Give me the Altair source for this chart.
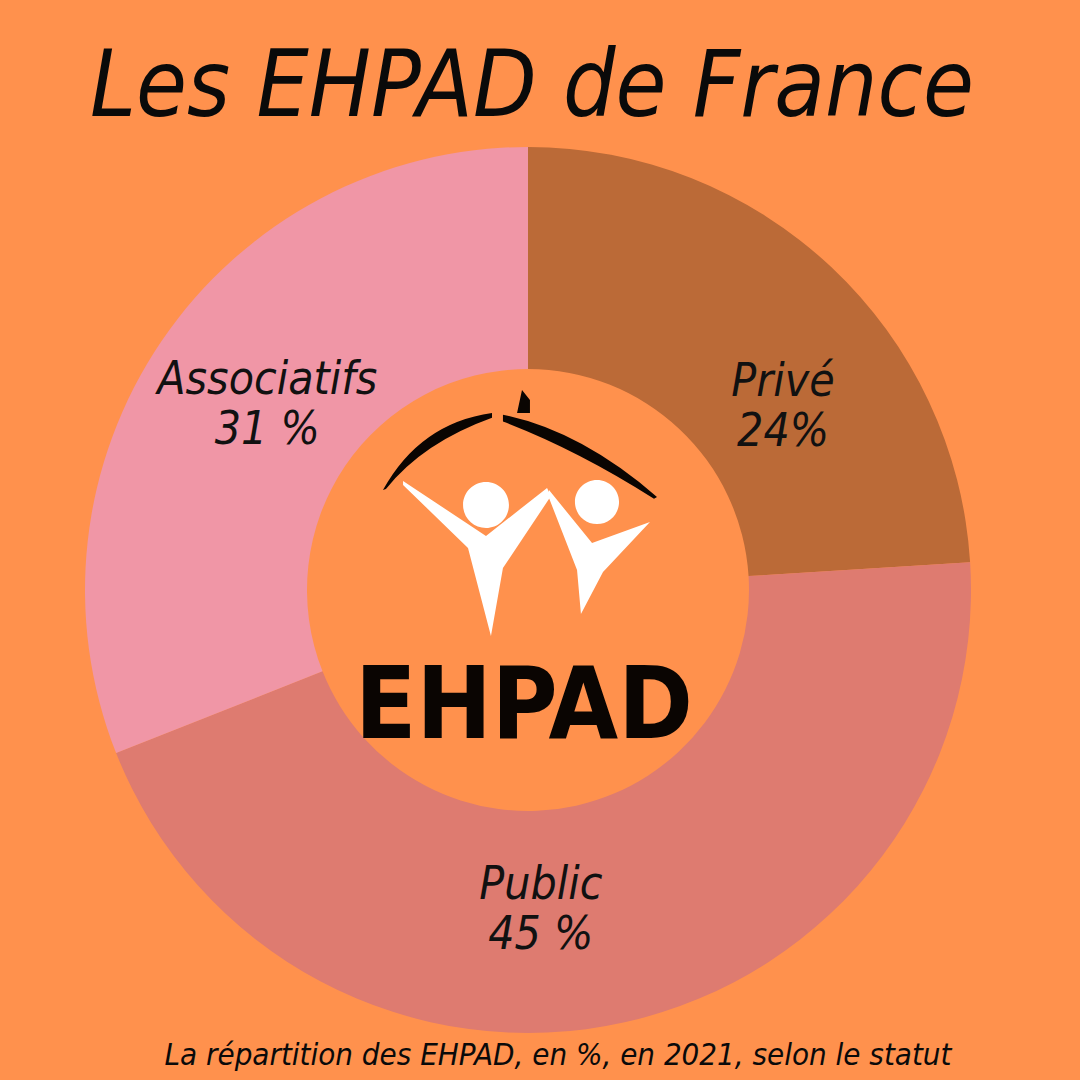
import math
import altair as alt
import pandas as pd

# ---- data ----
categories = ["Privé", "Public", "Associatifs"]
values = [24, 45, 31]
labels = ["Privé\n24%", "Public\n45 %", "Associatifs\n31 %"]
order_idx = [0, 1, 2]
colors = ["#BB6A37", "#DE7B70", "#F096A6"]

title_text = "Les EHPAD de France"
subtitle_text = "La répartition des EHPAD, en %, en 2021, selon le statut"
logo_text = "EHPAD"

BG = "#FF914D"
CX, CY = 528, 590
R_OUT, R_IN = 443, 221
HAND = "Liberation Sans Narrow, DejaVu Sans Condensed, Liberation Sans, sans-serif"

df = pd.DataFrame({"category": categories, "value": values,
                   "label": labels, "idx": order_idx})

theta_scale = alt.Scale(domain=[0, 100], range=[0, 2 * math.pi])

base = alt.Chart(df)

arcs = base.mark_arc(outerRadius=R_OUT, innerRadius=R_IN, x=CX, y=CY,
                     strokeWidth=0).encode(
    theta=alt.Theta("value:Q", stack=True, scale=theta_scale),
    color=alt.Color("category:N", legend=None,
                    scale=alt.Scale(domain=categories, range=colors)),
    order=alt.Order("idx:Q"),
)

lab_base = base.transform_window(
    cum="sum(value)", sort=[alt.SortField("idx")], frame=[None, 0]
).transform_calculate(mid="datum.cum - datum.value / 2")

offsets = {"Privé": (36, 25), "Public": (-57, -17), "Associatifs": (4, -30)}
label_layers = []
for cat in categories:
    dx, dy = offsets[cat]
    label_layers.append(
        lab_base.transform_filter(alt.datum.category == cat).mark_text(
            radius=320, x=CX, y=CY, dx=dx, dy=dy, font=HAND, fontSize=46,
            fontStyle="italic", color="#111111", lineBreak="\n",
            lineHeight=50, align="center", baseline="middle",
        ).encode(
            theta=alt.Theta("mid:Q", stack=None, scale=theta_scale),
            text="label:N",
        )
    )

one = alt.Chart(pd.DataFrame({"t": [title_text], "s": [subtitle_text], "l": [logo_text]}))

title = one.mark_text(font=HAND, fontSize=92, fontStyle="italic", color="#0a0a0a",
                      align="center", baseline="middle").encode(
    x=alt.value(532), y=alt.value(88), text="t:N")
subtitle = one.mark_text(font=HAND, fontSize=31, fontStyle="italic", color="#0a0a0a",
                         align="center", baseline="middle").encode(
    x=alt.value(558), y=alt.value(1056), text="s:N")
logo_word = one.mark_text(font=HAND, fontSize=100, fontWeight="bold", color="#0a0502",
                          align="center", baseline="middle").encode(
    x=alt.value(524), y=alt.value(708), text="l:N")

def circ(x, y, r):
    return (f"M{x - r} {y} A{r} {r} 0 1 0 {x + r} {y} "
            f"A{r} {r} 0 1 0 {x - r} {y} Z ")

roof_path = (
    "M-0.967 -0.133 Q-0.72 -0.58 -0.24 -0.647 L-0.24 -0.615 Q-0.70 -0.45 -0.947 -0.140 Z "
    "M-0.167 -0.635 Q0.35 -0.53 0.86 -0.087 L0.84 -0.075 Q0.33 -0.40 -0.167 -0.59 Z "
    "M-0.04 -0.80 L0.013 -0.733 L0.013 -0.647 L-0.073 -0.647 Z"
)
people_path = (
    "M-0.833 -0.193 L-0.28 0.173 L0.127 -0.147 L0.153 -0.093 L-0.167 0.387 "
    "L-0.247 0.84 L-0.40 0.253 L-0.833 -0.167 Z "
    "M0.14 -0.133 L0.427 0.22 L0.813 0.08 L0.50 0.413 L0.353 0.693 "
    "L0.327 0.40 L0.14 -0.08 Z "
    + circ(-0.28, -0.033, 0.153) + circ(0.46, -0.053, 0.147)
)

roof = one.mark_point(shape=roof_path, size=90000, filled=True, fill="#0a0502",
                      opacity=1, strokeWidth=0).encode(
    x=alt.value(528), y=alt.value(510))
people = one.mark_point(shape=people_path, size=90000, filled=True, fill="#FFFFFF",
                        opacity=1, strokeWidth=0).encode(
    x=alt.value(528), y=alt.value(510))

chart = alt.layer(arcs, *label_layers, roof, people, logo_word, title, subtitle).properties(
    width=1080, height=1080, padding=0,
    autosize=alt.AutoSizeParams(type="none"),
    background=BG,
).configure_view(strokeWidth=0)

chart.save("out.html", embed_options={"renderer": "svg", "actions": False})
